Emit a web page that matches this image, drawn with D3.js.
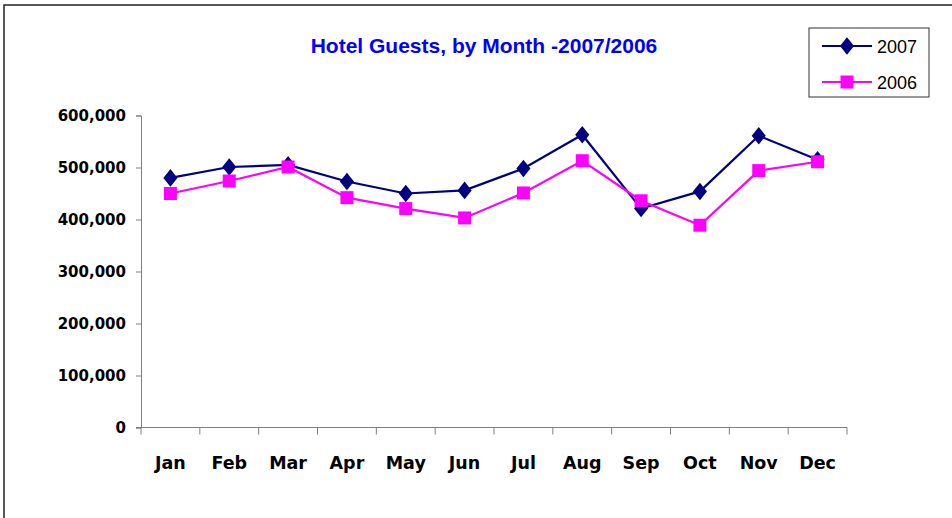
<!DOCTYPE html>
<html>
<head>
<meta charset="utf-8">
<script src="https://cdn.jsdelivr.net/npm/d3@7"></script>
<style>
  body { margin: 0; background: #fff; }
  svg { display: block; }
</style>
</head>
<body>
<div id="chart"></div>
<script>
const months = ["Jan", "Feb", "Mar", "Apr", "May", "Jun", "Jul", "Aug", "Sep", "Oct", "Nov", "Dec"];
const guests2007 = [480000, 501000, 505000, 473000, 450000, 456000, 498000, 563000, 421000, 454000, 561000, 515000];
const guests2006 = [450000, 474000, 501000, 442000, 421000, 403000, 451000, 513000, 436000, 389000, 494000, 511000];
const yTicks = [0, 100000, 200000, 300000, 400000, 500000, 600000];

const w = 952, h = 518;
const plotLeft = 141, plotRight = 847, plotTop = 115.5, plotBottom = 427.5;

const svg = d3.select("#chart").append("svg")
  .attr("width", w)
  .attr("height", h);

// outer chart frame
svg.append("rect")
  .attr("x", 4).attr("y", 5)
  .attr("width", 980).attr("height", 540)
  .attr("fill", "none")
  .attr("stroke", "#222")
  .attr("stroke-width", 1.5);

const xScale = d3.scaleBand().domain(months).range([plotLeft, plotRight]);
const yScale = d3.scaleLinear().domain([0, 600000]).range([plotBottom, plotTop]);

// y axis
const yAxis = d3.axisLeft(yScale)
  .tickValues(yTicks)
  .tickSize(5)
  .tickPadding(10)
  .tickFormat(d3.format(","));
const gy = svg.append("g")
  .attr("transform", `translate(${plotLeft},0)`)
  .call(yAxis);
gy.select(".domain").attr("stroke", "#808080");
gy.selectAll(".tick line").attr("stroke", "#808080");
gy.selectAll("text")
  .attr("fill", "#000")
  .style("font-family", "'DejaVu Sans', sans-serif")
  .style("font-weight", "bold")
  .style("font-size", "15px");

// x axis with ticks on band edges
const gx = svg.append("g").attr("transform", `translate(0,${plotBottom})`);
gx.append("line")
  .attr("x1", plotLeft - 5).attr("x2", plotRight)
  .attr("stroke", "#808080");
gx.selectAll("line.tk")
  .data(months.concat(["end"]))
  .enter().append("line")
  .attr("class", "tk")
  .attr("x1", (d, i) => i < months.length ? xScale(d) : plotRight)
  .attr("x2", (d, i) => i < months.length ? xScale(d) : plotRight)
  .attr("y1", 0).attr("y2", 7)
  .attr("stroke", "#808080");
gx.selectAll("text")
  .data(months)
  .enter().append("text")
  .attr("x", d => xScale(d) + xScale.bandwidth() / 2)
  .attr("y", 41)
  .attr("text-anchor", "middle")
  .style("font-family", "'DejaVu Sans', sans-serif")
  .style("font-weight", "bold")
  .style("font-size", "17.5px")
  .text(d => d);

const cx = d => xScale(d) + xScale.bandwidth() / 2;
const line = d3.line()
  .x((d, i) => cx(months[i]))
  .y(d => yScale(d));

// 2007 series
svg.append("path")
  .datum(guests2007)
  .attr("d", line)
  .attr("fill", "none")
  .attr("stroke", "#000080")
  .attr("stroke-width", 2.2);
svg.selectAll("path.d07")
  .data(guests2007)
  .enter().append("path")
  .attr("class", "d07")
  .attr("d", d3.symbol(d3.symbolDiamond, 110))
  .attr("transform", (d, i) => `translate(${cx(months[i])},${yScale(d)}) scale(1.25,0.9)`)
  .attr("fill", "#000080");

// 2006 series
svg.append("path")
  .datum(guests2006)
  .attr("d", line)
  .attr("fill", "none")
  .attr("stroke", "#FF00FF")
  .attr("stroke-width", 2.2);
svg.selectAll("rect.d06")
  .data(guests2006)
  .enter().append("rect")
  .attr("class", "d06")
  .attr("x", (d, i) => cx(months[i]) - 6.5)
  .attr("y", d => yScale(d) - 6.5)
  .attr("width", 13).attr("height", 13)
  .attr("fill", "#FF00FF");

// title
svg.append("text")
  .attr("x", 484)
  .attr("y", 53)
  .attr("text-anchor", "middle")
  .attr("fill", "#0000FF")
  .style("font-family", "'Liberation Sans', Arial, sans-serif")
  .style("font-weight", "bold")
  .style("font-size", "21px")
  .text("Hotel Guests, by Month -2007/2006");

// legend
const legend = svg.append("g").attr("transform", "translate(809,28)");
legend.append("rect")
  .attr("width", 120).attr("height", 69)
  .attr("fill", "#fff")
  .attr("stroke", "#333")
  .attr("stroke-width", 1);
const legendItems = [
  { name: "2007", color: "#000080", y: 18 },
  { name: "2006", color: "#FF00FF", y: 54 }
];
legendItems.forEach((it, i) => {
  legend.append("line")
    .attr("x1", 13).attr("x2", 63)
    .attr("y1", it.y).attr("y2", it.y)
    .attr("stroke", it.color)
    .attr("stroke-width", 2);
  if (i === 0) {
    legend.append("path")
      .attr("d", d3.symbol(d3.symbolDiamond, 110))
      .attr("transform", `translate(38,${it.y}) scale(1.25,0.9)`)
      .attr("fill", it.color);
  } else {
    legend.append("rect")
      .attr("x", 31.5).attr("y", it.y - 6.5)
      .attr("width", 13).attr("height", 13)
      .attr("fill", it.color);
  }
  legend.append("text")
    .attr("x", 68)
    .attr("y", it.y + 6.5)
    .style("font-family", "'Liberation Sans', Arial, sans-serif")
    .style("font-size", "18px")
    .text(it.name);
});
</script>
</body>
</html>
